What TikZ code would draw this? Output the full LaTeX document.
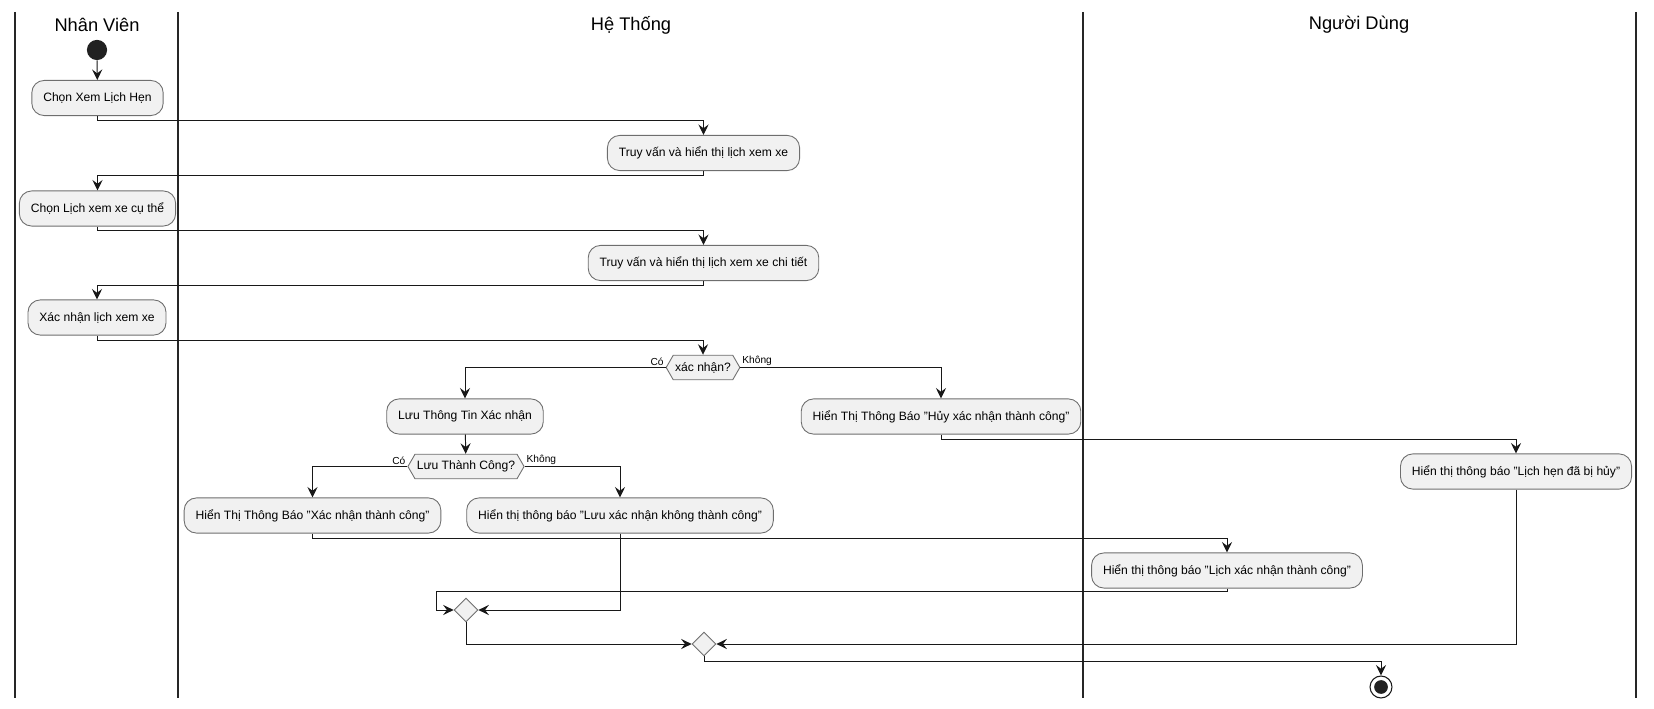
\documentclass[tikz,border=0pt]{standalone}
\usepackage{fontspec}
\setmainfont{Liberation Sans}
\usetikzlibrary{arrows.meta}
\usetikzlibrary{shapes.geometric}
\usetikzlibrary{shapes.symbols}
\definecolor{actfill}{HTML}{F1F1F1}
\definecolor{actline}{HTML}{181818}
\definecolor{boxline}{HTML}{6E6E6E}

\begin{document}
\begin{tikzpicture}[x=0.02cm, y=-0.02cm,
  act/.style={draw=boxline, fill=actfill, line width=.5pt, rounded corners=7pt, minimum height=20pt, inner xsep=6.5pt, font=\fontsize{6.9}{8}\selectfont},
  cond/.style={draw=boxline, fill=actfill, line width=.5pt, signal, signal to=west and east, signal pointer angle=120, minimum height=14pt, inner xsep=1pt, inner ysep=1pt, font=\fontsize{6.9}{8}\selectfont},
  merge/.style={draw=boxline, fill=actfill, line width=.5pt, diamond, minimum width=13.6pt, minimum height=13.6pt, inner sep=0pt},
  flow/.style={draw=actline, line width=.55pt, -{Stealth[length=6pt, width=5.8pt, inset=2.2pt]}},
  lbl/.style={inner sep=1pt, font=\fontsize{5.8}{7}\selectfont},
  lane/.style={black!85, line width=1.1pt},
  head/.style={font=\fontsize{10.4}{12}\selectfont}]

\useasboundingbox (0,0) rectangle (1654,709);

\foreach \x in {15,178,1083,1636} \draw[lane] (\x,12) -- (\x,698);

\node[head] (hNV) at (97,25) {Nhân Viên};
\node[head] (hHT) at (631,25) {Hệ Thống};
\node[head] (hND) at (1359,25) {Người Dùng};

\node[circle, fill=black!87, minimum size=11.5pt, inner sep=0pt] (start) at (97,50) {};
\node[act] (a1) at (97.5,98) {Chọn Xem Lịch Hẹn};
\node[act] (s1) at (703.5,153) {Truy vấn và hiển thị lịch xem xe};
\node[act] (a2) at (97.5,208.5) {Chọn Lịch xem xe cụ thể};
\node[act] (s2) at (703.5,263) {Truy vấn và hiển thị lịch xem xe chi tiết};
\node[act] (a3) at (97,317.5) {Xác nhận lịch xem xe};
\node[cond] (d1) at (703,367.5) {xác nhận?};
\node[act] (s3) at (465,416.5) {Lưu Thông Tin Xác nhận};
\node[act] (s4) at (941,416.5) {Hiển Thị Thông Báo "Hủy xác nhận thành công"};
\node[cond] (d2) at (466,466.5) {Lưu Thành Công?};
\node[act] (u1) at (1516,471.5) {Hiển thị thông báo "Lịch hẹn đã bị hủy"};
\node[act] (s5) at (312.5,515.5) {Hiển Thị Thông Báo "Xác nhận thành công"};
\node[act] (s6) at (620,515.5) {Hiển thị thông báo "Lưu xác nhận không thành công"};
\node[act] (u2) at (1227,570.5) {Hiển thị thông báo "Lịch xác nhận thành công"};
\node[merge] (m1) at (466,610) {};
\node[merge] (m2) at (704,644) {};
\node[circle, draw=actline, line width=.6pt, fill=white, minimum size=12.5pt, inner sep=0pt,
  path picture={\fill[black!87] (path picture bounding box.center) circle (3.9pt);}] (end) at (1381,687) {};
\coordinate (j1) at (436,610);

\node[lbl, anchor=south east] at (d1.west) {Có};
\node[lbl, anchor=south west] at (d1.east) {Không};
\node[lbl, anchor=south east] at (d2.west) {Có};
\node[lbl, anchor=south west] at (d2.east) {Không};

\draw[flow] (start) -- (a1);
\draw[flow] (a1.south) -- ++(0,4) -| (s1.north);
\draw[flow] (s1.south) -- ++(0,4) -| (a2.north);
\draw[flow] (a2.south) -- ++(0,4) -| (s2.north);
\draw[flow] (s2.south) -- ++(0,4) -| (a3.north);
\draw[flow] (a3.south) -- ++(0,5) -| (d1.north);
\draw[flow] (d1.west) -| (s3.north);
\draw[flow] (d1.east) -| (s4.north);
\draw[flow] (s3) -- (d2);
\draw[flow] (d2.west) -| (s5.north);
\draw[flow] (d2.east) -| (s6.north);
\draw[flow] (s4.south) -- ++(0,5) -| (u1.north);
\draw[flow] (s5.south) -- ++(0,5) -| (u2.north);
\draw[flow] (s6.south) |- (m1.east);
\draw[flow] (u2.south) -- ++(0,3) -| (j1) -- (m1.west);
\draw[flow] (m1.south) |- (m2.west);
\draw[flow] (u1.south) |- (m2.east);
\draw[flow] (m2.south) -- ++(0,5) -| (end.north);
\end{tikzpicture}
\end{document}
